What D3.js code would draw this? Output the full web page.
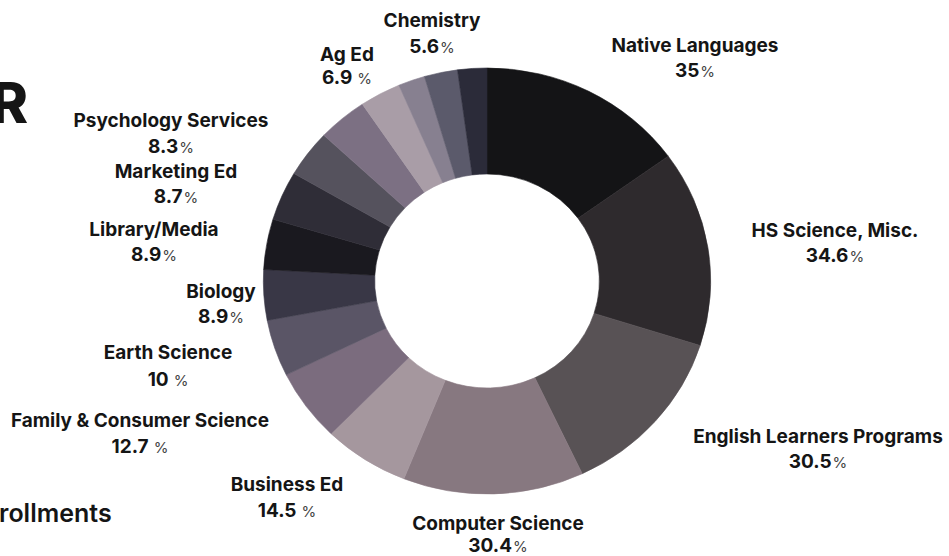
<!DOCTYPE html>
<html>
<head>
<meta charset="utf-8">
<script src="https://cdn.jsdelivr.net/npm/d3@7"></script>
<style>
  body { margin: 0; background: #fff; }
  svg { display: block; }
  text { font-family: Inter, "Open Sans", sans-serif; fill: #151515; }
</style>
</head>
<body>
<svg id="chart"></svg>
<script>
// ---------------------- data ---------------------------
// slices clockwise from 12 o'clock; "" = slice with no label in the picture
const categories = ["Native Languages", "HS Science, Misc.", "English Learners Programs",
  "Computer Science", "Business Ed", "Family & Consumer Science", "Earth Science",
  "Biology", "Library/Media", "Marketing Ed", "Psychology Services", "",
  "Ag Ed", "", "Chemistry", ""];
const values = [35, 34.6, 30.5, 30.4, 14.5, 12.7, 10, 8.9, 8.9, 8.7, 8.3, 8.4, 6.9, 4.5, 5.6, 4.9];
const sliceColors = ["#141416", "#2e2a2d", "#585255", "#877880", "#a5979e", "#7b6c7e",
  "#5a5566", "#393746", "#1a191f", "#2f2d37", "#55525d", "#7c7083", "#a99da7",
  "#878090", "#5b5a6b", "#2b2b39"];

// ---------------------- layout ---------------------------
const width = 949;
const height = 556;
const cx = 487, cy = 281;
const outerR = 213, innerR = 107;
const stretchX = 1.05; // the scan is a little wider than tall

// label placement: [centre x, name baseline, percent baseline, space before %]
const labelPos = {
  "Native Languages": [695, 52, 77, false],
  "HS Science, Misc.": [835, 237, 262, false],
  "English Learners Programs": [818, 443, 468, false],
  "Computer Science": [498, 530, 552, false],
  "Business Ed": [287, 491, 517, true],
  "Family & Consumer Science": [140, 427, 453, true],
  "Earth Science": [168, 359, 386, true],
  "Biology": [221, 298, 323, false],
  "Library/Media": [154, 236, 261, false],
  "Marketing Ed": [176, 178, 203, false],
  "Psychology Services": [171, 127, 153, false],
  "Ag Ed": [347, 61, 84, true],
  "Chemistry": [432, 27, 53, false]
};

const svg = d3.select("#chart")
  .attr("width", width)
  .attr("height", height);

// ---------------------- donut ---------------------------
const pie = d3.pie().sort(null).value(d => d)(values);
const arc = d3.arc().innerRadius(innerR).outerRadius(outerR);

const ring = svg.append("g")
  .attr("transform", "translate(" + cx + "," + cy + ") scale(" + stretchX + ",1)");

ring.selectAll("path")
  .data(pie)
  .join("path")
  .attr("d", arc)
  .attr("fill", (d, i) => sliceColors[i])
  .attr("stroke", (d, i) => sliceColors[i])
  .attr("stroke-width", 0.6);

// ---------------------- labels ---------------------------
categories.forEach((name, i) => {
  if (!name) return;
  const p = labelPos[name];
  svg.append("text")
    .attr("x", p[0])
    .attr("y", p[1])
    .attr("text-anchor", "middle")
    .style("font-size", "19px")
    .style("font-weight", 700)
    .text(name);
  const t = svg.append("text")
    .attr("x", p[0])
    .attr("y", p[2])
    .attr("text-anchor", "middle")
    .style("font-size", "19px");
  t.append("tspan").style("font-weight", 700).text(values[i]);
  t.append("tspan")
    .attr("dx", p[3] ? 5 : 1)
    .style("font-weight", 400)
    .style("font-size", "15px")
    .style("fill", "#444")
    .text("%");
});

// cut-off pieces of the page title / footer
svg.append("text")
  .attr("x", 28).attr("y", 123)
  .attr("text-anchor", "end")
  .style("font-size", "56px")
  .style("font-weight", 800)
  .text("R");

svg.append("text")
  .attr("x", -1).attr("y", 522)
  .style("font-size", "25px")
  .style("font-weight", 600)
  .text("rollments");
</script>
</body>
</html>
